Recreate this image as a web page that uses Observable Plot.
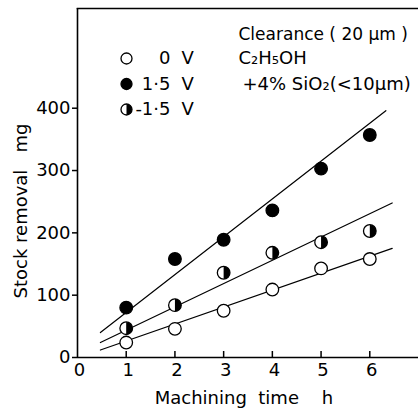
<!DOCTYPE html>
<html>
<head>
<meta charset="utf-8">
<script src="https://cdn.jsdelivr.net/npm/d3@7"></script>
<script src="https://cdn.jsdelivr.net/npm/@observablehq/plot@0.6"></script>
<style>
  html, body { margin: 0; padding: 0; background: #fff; }
  #chart svg { display: block; }
</style>
</head>
<body>
<div id="chart"></div>
<script>
// ---- data ----
const hours = [1, 2, 3, 4, 5, 6];
const removal0V   = [24, 46, 75, 109, 143, 158];
const removal15V  = [80, 158, 189, 236, 303, 357];
const removalM15V = [47, 84, 136, 168, 185, 203];

// fitted straight lines (endpoints)
const fit0V   = {x: [0.47, 6.46], y: [12, 175]};
const fit15V  = {x: [0.47, 6.33], y: [40, 396]};
const fitM15V = {x: [0.47, 6.46], y: [24, 248]};

const xTicks = [0, 1, 2, 3, 4, 5, 6];
const yTicks = [0, 100, 200, 300, 400];
const legendNumbers = ["0", "1·5", "-1·5"];
const conditionLines = ["Clearance ( 20 μm )", "C₂H₅OH", "+4% SiO₂(<10μm)"];

const FONT = "'DejaVu Sans', sans-serif";

const pts = (xs, ys) => xs.map((x, i) => ({x, y: ys[i]}));

// right half-disc symbol
const halfRight = {
  draw(context, size) {
    const r = Math.sqrt(size / Math.PI);
    context.moveTo(0, -r);
    context.arc(0, 0, r, -Math.PI / 2, Math.PI / 2);
    context.closePath();
  }
};

const R = 6.3;
const dotStyle = {r: R, stroke: "black", strokeWidth: 1.3};

const marks = [
  // axes frame lines
  Plot.ruleX([0], {strokeWidth: 1.6}),
  Plot.ruleY([0], {strokeWidth: 1.6}),
  Plot.frame({anchor: "top", strokeWidth: 1.6}),
  // y axis: outward ticks
  Plot.axisY(yTicks, {tickSize: 5, tickPadding: 2, strokeWidth: 1.5, fontSize: 18, label: null}),
  // x axis labels
  Plot.axisX(xTicks, {tickSize: 0, tickPadding: 6, fontSize: 18, label: null, dx: 2}),
  // x axis inward ticks
  Plot.tickX(xTicks.filter(d => d > 0), {x: d => d, insetTop: 343, strokeWidth: 1.5}),
  // fit lines
  Plot.line(pts(fit15V.x, fit15V.y), {x: "x", y: "y", strokeWidth: 1.2}),
  Plot.line(pts(fitM15V.x, fitM15V.y), {x: "x", y: "y", strokeWidth: 1.2}),
  Plot.line(pts(fit0V.x, fit0V.y), {x: "x", y: "y", strokeWidth: 1.2}),
  // data points
  Plot.dot(pts(hours, removal0V), {x: "x", y: "y", fill: "white", ...dotStyle}),
  Plot.dot(pts(hours, removal15V), {x: "x", y: "y", fill: "black", ...dotStyle}),
  Plot.dot(pts(hours, removalM15V), {x: "x", y: "y", fill: "white", ...dotStyle}),
  Plot.dot(pts(hours, removalM15V), {x: "x", y: "y", fill: "black", symbol: halfRight, r: R, stroke: "none"}),
  // axis titles
  Plot.text(["Machining  time    h"], {frameAnchor: "bottom", lineAnchor: "bottom", dy: 46, fontSize: 18, textAnchor: "middle", dx: -4}),
  Plot.text(["Stock removal   mg"], {frameAnchor: "left", lineAnchor: "middle", textAnchor: "middle", dx: -56, dy: 28, rotate: -90, fontSize: 18}),
];

// legend
const legendFills = ["white", "black", "half"];
legendNumbers.forEach((lab, i) => {
  const dy = 50 + i * 25.5;
  const fill = legendFills[i];
  marks.push(Plot.dot([lab], {frameAnchor: "top-left", dx: 49, dy, fill: fill === "black" ? "black" : "white", r: 5.5, stroke: "black", strokeWidth: 1.3}));
  if (fill === "half") marks.push(Plot.dot([lab], {frameAnchor: "top-left", dx: 49, dy, fill: "black", symbol: halfRight, r: 5.5}));
  marks.push(Plot.text([lab], {frameAnchor: "top-left", lineAnchor: "middle", dx: 93, dy, textAnchor: "end", fontSize: 18}));
  marks.push(Plot.text(["V"], {frameAnchor: "top-left", lineAnchor: "middle", dx: 104, dy, textAnchor: "start", fontSize: 18}));
});
conditionLines.forEach((t, i) => {
  const dy = [26, 50, 76][i];
  marks.push(Plot.text([t], {frameAnchor: "top-left", lineAnchor: "middle", dx: i === 2 ? 165 : 161, dy, textAnchor: "start", fontSize: i === 0 ? 17 : 18}));
});

const chart = Plot.plot({
  width: 418,
  height: 409,
  marginLeft: 77,
  marginTop: 8,
  marginRight: 0,
  marginBottom: 52,
  style: {fontFamily: FONT, fontSize: "18px", color: "black", background: "white"},
  x: {domain: [0, 7]},
  y: {domain: [0, 560]},
  marks
});
document.getElementById("chart").appendChild(chart);
</script>
</body>
</html>
